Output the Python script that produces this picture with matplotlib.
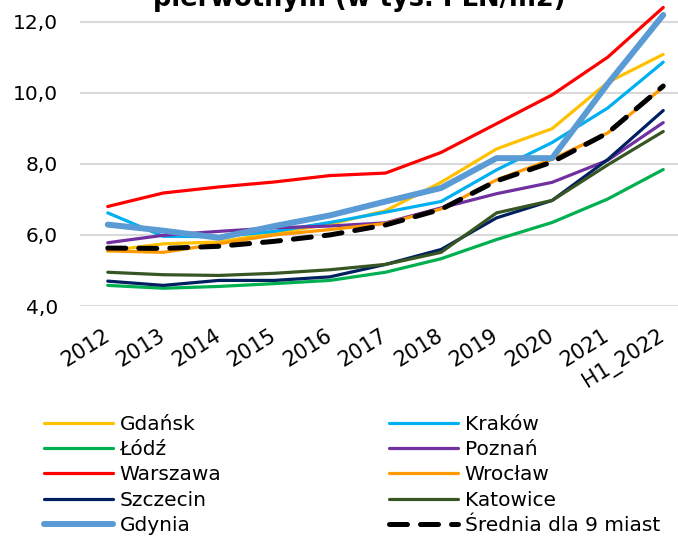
import matplotlib
matplotlib.use("Agg")
import matplotlib.pyplot as plt

plt.rcParams['font.family'] = ['DejaVu Sans']

years = ["2012", "2013", "2014", "2015", "2016", "2017", "2018", "2019", "2020", "2021", "H1_2022"]

gdansk   = [5.55, 5.75, 5.80, 6.05, 6.30, 6.68, 7.48, 8.42, 8.99, 10.29, 11.08]
krakow   = [6.62, 5.96, 5.95, 6.10, 6.35, 6.64, 6.94, 7.83, 8.60, 9.57, 10.86]
lodz     = [4.58, 4.50, 4.55, 4.63, 4.72, 4.95, 5.33, 5.87, 6.35, 7.01, 7.84]
poznan   = [5.78, 5.99, 6.10, 6.20, 6.25, 6.34, 6.76, 7.16, 7.48, 8.10, 9.16]
warszawa = [6.80, 7.18, 7.35, 7.49, 7.67, 7.74, 8.32, 9.13, 9.94, 11.00, 12.40]
wroclaw  = [5.55, 5.51, 5.75, 6.00, 6.15, 6.32, 6.73, 7.55, 8.13, 8.87, 10.16]
szczecin = [4.70, 4.58, 4.72, 4.72, 4.82, 5.17, 5.59, 6.48, 6.97, 8.12, 9.50]
katowice = [4.95, 4.88, 4.86, 4.92, 5.02, 5.17, 5.51, 6.62, 6.97, 7.97, 8.91]
gdynia   = [6.29, 6.12, 5.92, 6.25, 6.55, 6.94, 7.32, 8.16, 8.16, 10.25, 12.19]
srednia  = [5.63, 5.62, 5.68, 5.82, 6.00, 6.28, 6.72, 7.52, 8.05, 8.87, 10.19]

series = [
    ("Gdańsk", gdansk, "#FFC000"),
    ("Kraków", krakow, "#00B0F0"),
    ("Łódź", lodz, "#00B050"),
    ("Poznań", poznan, "#7030A0"),
    ("Warszawa", warszawa, "#FF0000"),
    ("Wrocław", wroclaw, "#FF9900"),
    ("Szczecin", szczecin, "#002060"),
    ("Katowice", katowice, "#375623"),
]

W, H = 678, 536
fig = plt.figure(figsize=(W / 100, H / 100), dpi=100)
ax = fig.add_axes([80 / W, (H - 306) / H, 611 / W, 306 / H])

x = list(range(len(years)))
handles = {}
for name, vals, col in series:
    l, = ax.plot(x, vals, color=col, lw=2.3, solid_capstyle='round', label=name)
    handles[name] = l
l, = ax.plot(x, gdynia, color="#5B9BD5", lw=4.3, solid_capstyle='round', label="Gdynia")
handles["Gdynia"] = l
l, = ax.plot(x, srednia, color="black", lw=3.6, ls=(0, (3.6, 2.6)), dash_capstyle='round',
             label="Średnia dla 9 miast")
handles["Średnia dla 9 miast"] = l

ax.set_xlim(-0.5, 10.5)
ax.set_ylim(4, 12.61)
ax.set_yticks([4, 6, 8, 10, 12])
ax.set_yticklabels(["4,0", "6,0", "8,0", "10,0", "12,0"])
ax.yaxis.grid(True, color="#D9D9D9", lw=1.5)
ax.set_axisbelow(True)
for s in ax.spines.values():
    s.set_visible(False)
ax.tick_params(axis='y', length=0, pad=16, labelsize=14.5, labelcolor="#000000")
ax.tick_params(axis='x', length=0, pad=20)
ax.set_xticks(x)
ax.set_xticklabels(years, rotation=32, ha='right', va='center', rotation_mode='anchor', fontsize=15)

fig.text(359 / W, 1 - 6 / H, "pierwotnym (w tys. PLN/m2)", ha='center', va='baseline',
         fontsize=18.5, fontweight='bold')

col1 = ["Gdańsk", "Łódź", "Warszawa", "Szczecin", "Gdynia"]
col2 = ["Kraków", "Poznań", "Wrocław", "Katowice", "Średnia dla 9 miast"]
common = dict(frameon=False, fontsize=14.5, handlelength=3.45, handletextpad=0.3,
              labelspacing=0.31, borderpad=0, borderaxespad=0)
leg1 = fig.legend([handles[n] for n in col1], col1, loc='upper left',
                  bbox_to_anchor=(44 / W, 1 - 415 / H), **common)
leg2 = fig.legend([handles[n] for n in col2], col2, loc='upper left',
                  bbox_to_anchor=(389 / W, 1 - 415 / H), **common)

fig.savefig("out.png", dpi=100)
